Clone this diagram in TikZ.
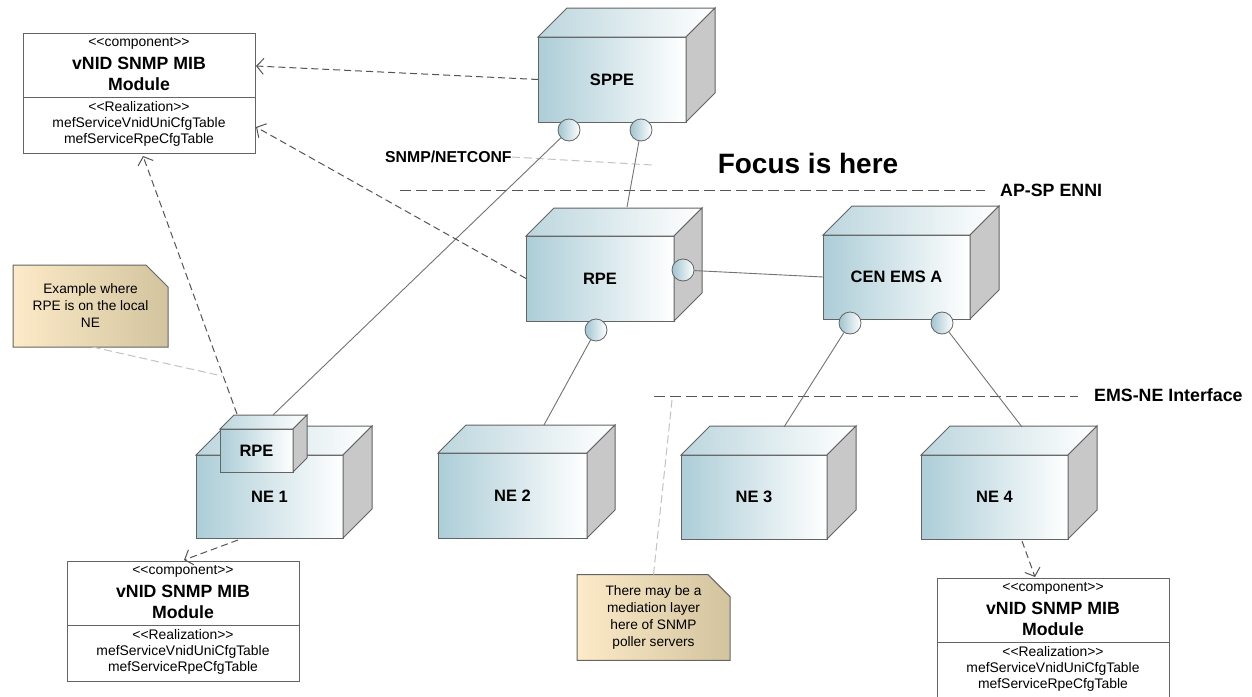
\documentclass[tikz,border=0pt]{standalone}
\usepackage{fontspec}
\setmainfont{Liberation Sans}
\usetikzlibrary{arrows.meta,shapes.misc}

\definecolor{boxblue}{RGB}{172,205,215}
\definecolor{boxtop}{RGB}{188,214,222}
\definecolor{boxside}{RGB}{200,200,200}
\definecolor{edgec}{RGB}{100,100,100}
\definecolor{notel}{RGB}{253,234,200}
\definecolor{noter}{RGB}{210,196,158}
\definecolor{linkc}{RGB}{115,115,115}
\definecolor{depc}{RGB}{85,85,85}
\definecolor{faintc}{RGB}{195,195,195}
\definecolor{portc}{RGB}{160,196,208}

\newcommand{\fsz}[2]{\fontsize{#1}{#2}\selectfont}

\tikzset{
  frontface/.style={draw=edgec, line width=1pt, left color=boxblue, right color=white,
    inner sep=0pt, outer sep=0pt, font=\bfseries\fsz{16.5}{18}},
  topface/.style={draw=edgec, line width=1pt, left color=boxtop, right color=white},
  sideface/.style={draw=edgec, line width=1pt, fill=boxside},
  port/.style={circle, draw=edgec, line width=0.8pt, minimum size=22pt, inner sep=0pt,
    left color=portc, right color=white},
  link/.style={draw=linkc, line width=0.9pt},
  dep/.style={draw=depc, line width=1pt, dash pattern=on 7pt off 4pt,
    -{Straight Barb[length=7pt,width=16pt,line width=1pt]}},
  faintdash/.style={draw=faintc, line width=1pt, dash pattern=on 8pt off 4pt},
  boundary/.style={draw=depc, line width=1pt, dash pattern=on 11pt off 5pt},
  mibbox/.style={draw=edgec, line width=1pt, fill=white, inner sep=0pt, outer sep=0pt,
    minimum width=232pt, minimum height=120pt},
  mibtxt/.style={font=\fsz{13.9}{15}, inner sep=0pt},
  mibtitle/.style={font=\bfseries\fsz{17.7}{19}, inner sep=0pt},
  notebox/.style={chamfered rectangle, chamfered rectangle corners=north east,
    chamfered rectangle xsep=11pt, chamfered rectangle ysep=11pt,
    draw=edgec, line width=1pt, left color=notel, right color=noter,
    inner sep=0pt, outer sep=0pt, align=center, font=\fsz{13.7}{17}},
  lbl/.style={font=\bfseries\fsz{17.8}{19}, inner sep=0pt},
}

% name, x1, y1, x2, y2, depth, label
\newcommand{\cubebox}[7]{%
  \pgfmathsetmacro\cubew{#4-#2}%
  \pgfmathsetmacro\cubeh{#5-#3}%
  \node[frontface, minimum width=\cubew pt, minimum height=\cubeh pt] (#1)
    at ({(#2+#4)/2},{(#3+#5)/2}) {#7};
  \path[topface] (#1.north west) -- ++(#6,-#6) -- ([shift={(#6,-#6)}]#1.north east)
    -- (#1.north east) -- cycle;
  \path[sideface] (#1.north east) -- ++(#6,-#6) -- ([shift={(#6,-#6)}]#1.south east)
    -- (#1.south east) -- cycle;
}

% name, x1, y1
\newcommand{\mibmodule}[3]{%
  \node[mibbox] (#1) at ({#2+116},{#3+60}) {};
  \draw[draw=edgec, line width=1pt] ({#2},{#3+64}) -- ({#2+232},{#3+64});
  \node[mibtxt] (#1c) at ({#2+116},{#3+10}) {<{}<component>{}>};
  \node[mibtitle] (#1t) at ({#2+116},{#3+30}) {vNID SNMP MIB};
  \node[mibtitle] (#1m) at ({#2+116},{#3+51}) {Module};
  \node[mibtxt] (#1r) at ({#2+116},{#3+74}) {<{}<Realization>{}>};
  \node[mibtxt] (#1a) at ({#2+116},{#3+91}) {mefServiceVnidUniCfgTable};
  \node[mibtxt] (#1b) at ({#2+116},{#3+107}) {mefServiceRpeCfgTable};
}

\begin{document}
\begin{tikzpicture}[x=1pt,y=-1pt]
\useasboundingbox (0,0) rectangle (1252,696);
\clip (0,0) rectangle (1252,696);
\fill[white] (0,0) rectangle (1252,696);

% boundaries
\coordinate (apA) at (400,190);
\coordinate (apB) at (985,190);
\draw[boundary] (apA) -- (apB);
\node[lbl, anchor=west] (aplbl) at (1000,190) {AP-SP ENNI};
\coordinate (emA) at (654,396);
\coordinate (emB) at (1078,396);
\draw[boundary] (emA) -- (emB);
\node[lbl, anchor=west] (emlbl) at (1094,395) {EMS-NE Interface};

\node[font=\bfseries\fsz{28}{30}, inner sep=0pt] (focus) at (808,163) {Focus is here};
\node[lbl, font=\bfseries\fsz{15.8}{17}, anchor=west] (snmp) at (385,157) {SNMP/NETCONF};
\coordinate (snmpEnd) at (652,165);
\draw[faintdash] (snmp.east) -- (snmpEnd);

% MIB modules
\mibmodule{mibA}{23}{33}
\mibmodule{mibB}{67}{561}
\mibmodule{mibC}{937}{578}

% cubes
\cubebox{sppe}{538}{37}{686}{122}{29}{SPPE}
\cubebox{rpe}{526}{236}{674}{321}{28}{RPE}
\cubebox{cen}{823}{235}{970}{319}{29}{CEN EMS A}
\cubebox{neone}{196}{455}{343}{538}{29}{NE 1}
\cubebox{nerpe}{220}{429}{293}{472}{14}{RPE}
\cubebox{netwo}{438}{453}{587}{538}{28}{NE 2}
\cubebox{nethree}{681}{455}{827}{539}{29}{NE 3}
\cubebox{nefour}{921}{455}{1068}{539}{29}{NE 4}

% ports
\node[port] (sppeA) at (569,130) {};
\node[port] (sppeB) at (641,130) {};
\node[port] (rpeR) at (683,270) {};
\node[port] (rpeB) at (596,330) {};
\node[port] (cenA) at (850,323) {};
\node[port] (cenB) at (942,323) {};

% link end points
\coordinate (nerpeTop) at (273,415);
\coordinate (rpeTop) at (627,207);
\coordinate (netwoTop) at (544,425);
\coordinate (nethreeTop) at (784,427);
\coordinate (nefourTop) at (1022,427);

\draw[link] (sppeA) -- (nerpeTop);
\draw[link] (sppeB) -- (rpeTop);
\draw[link] (rpeR) -- (cen.west);
\draw[link] (rpeB) -- (netwoTop);
\draw[link] (cenA) -- (nethreeTop);
\draw[link] (cenB) -- (nefourTop);

% dependencies
\coordinate (mibAin1) at (256,66);
\coordinate (mibAin2) at (256,127);
\coordinate (mibAin3) at (143,156);
\coordinate (nerpeOut) at (237,414);
\coordinate (neoneOut) at (238,540);
\coordinate (mibBin) at (184,560);
\coordinate (nefourOut) at (1022,541);
\coordinate (mibCin) at (1035,577);
\draw[dep] (sppe.west) -- (mibAin1);
\draw[dep] (rpe.west) -- (mibAin2);
\draw[dep] (nerpeOut) -- (mibAin3);
\draw[dep] (neoneOut) -- (mibBin);
\draw[dep] (nefourOut) -- (mibCin);

% notes
\node[notebox, minimum width=155pt, minimum height=82pt] (noteA) at (90.5,306)
  {Example where\\RPE is on the local\\NE};
\node[notebox, minimum width=153pt, minimum height=81pt] (noteB) at (653.5,617.5)
  {There may be a\\mediation layer\\here of SNMP\\poller servers};
\coordinate (noteAend) at (222,376);
\coordinate (noteBend) at (672,400);
\draw[faintdash] ([xshift=2pt]noteA.south) -- (noteAend);
\draw[faintdash] (noteB.north) -- (noteBend);
\end{tikzpicture}
\end{document}
